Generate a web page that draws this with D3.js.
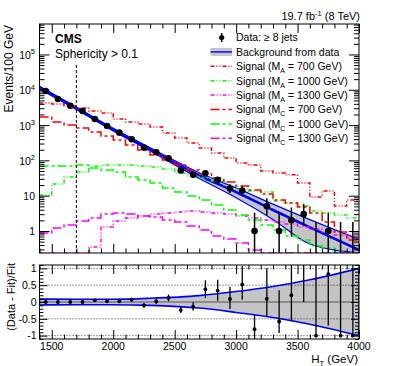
<!DOCTYPE html>
<html>
<head>
<meta charset="utf-8">
<script src="https://cdn.jsdelivr.net/npm/d3@7"></script>
<style>
body { margin: 0; background: #fff; }
text { font-family: "Liberation Sans", Arial, Helvetica, sans-serif; fill: #000; }
</style>
</head>
<body>
<script>
/* Data (events per 100 GeV bin) */
var binCenters = d3.range(1450, 4000, 100);

var dataEvents = [9250, 5480, 3540, 2500, 1480, 940, 610, 397, 230, 170, 114, 52, 39, 43, 28, 16, 14,
	1, 5, 1, 2, 3, 0, 1, 0, 0];
var dataErrDn = [96, 74, 60, 50, 38, 31, 25, 20, 15, 13, 11, 7, 6, 7, 5, 4, 4,
	0.83, 2.2, 0.83, 1.3, 1.6, 0, 0.83, 0, 0];
var dataErrUp = [96, 74, 60, 50, 38, 31, 25, 20, 15, 13, 11, 8, 7, 7, 6, 5, 5,
	2.3, 3.4, 2.3, 2.6, 2.9, 1.8, 2.3, 1.8, 1.8];

var ratioVals = [0, 0, 0, 0, 0.05, 0.02, 0.02, 0.07, -0.1, 0.02, 0.12, -0.24, -0.14, 0.38, 0.34, 0.09, 0.52,
	-0.81, 0.1, -0.58, 0.2, 1.4, -1, 0.83, -1, -1];
var ratioErrDn = [0.01, 0.015, 0.02, 0.02, 0.03, 0.03, 0.04, 0.06, 0.07, 0.08, 0.1, 0.09, 0.12, 0.25, 0.3, 0.3, 0.45,
	0.3, 0.55, 0.34, 0.78, 1.4, 0, 1.53, 0, 0];
var ratioErrUp = [0.01, 0.015, 0.02, 0.02, 0.03, 0.03, 0.04, 0.06, 0.07, 0.08, 0.1, 0.1, 0.13, 0.27, 0.32, 0.36, 0.55,
	0.43, 0.9, 0.93, 1.0, 2.0, 2.5, 2.0, 2.5, 2.5];

// background fit and its relative uncertainty band
var fitHT = [1400, 1700, 2000, 2300, 2700, 3000, 3300, 3600, 4000];
var fitEvents = [11620, 2990, 746, 206, 37.4, 12.7, 3.94, 1.26, 0.29];
var bandUp = [0.09, 0.08, 0.08, 0.11, 0.19, 0.31, 0.46, 0.66, 1.0];
var bandDn = [-0.09, -0.08, -0.08, -0.10, -0.18, -0.31, -0.46, -0.66, -1.0];

// signal histograms
var sigA700 = [4230, 3960, 3480, 3050, 2510, 2200, 1490, 1220, 1070, 880, 600, 430, 310, 225, 162, 117, 84,
	74, 50, 44, 39, 23, 9.2, 13.6, 5.1, 7.6];
var sigA1000 = [10.5, 21.4, 33.9, 46.9, 69.4, 74, 74, 74, 69.4, 65, 57.1, 44, 36.2, 31.7, 26.1, 18.8, 15.5,
	13.6, 12.7, 7.08, 6.21, 5.11, 3.69, 3.24, 2.84, 2.33];
var sigA1300 = [0.1, 0.1, 0.1, 0.1, 0.352, 1.30, 1.92, 2.33, 2.66, 3.03, 3.24, 3.45, 3.69, 3.45, 3.24, 3.03, 2.66,
	2.33, 2.05, 1.80, 1.58, 1.30, 1.14, 0.94, 0.77, 0.63];
var sigC700 = [1695, 1220, 1005, 828, 638, 491, 378, 273, 197, 142, 103, 74, 53.5, 41.2, 31.7, 24.4, 18.8,
	14.5, 11.2, 7.55, 6.21, 4.79, 3.24, 1.80, 0.94, 0.56];
var sigC1000 = [69.4, 69.4, 69.4, 74, 60.9, 53.5, 46.9, 33.9, 27.9, 22.9, 16.5, 12.7, 9.81, 7.55, 5.45, 3.94, 2.84,
	2.05, 1.48, 1.07, 0.72, 0.56, 0.38, 0.33, 0.25, 0.2];
var sigC1300 = [0.88, 1.22, 1.48, 1.92, 2.33, 3.03, 3.24, 3.03, 2.66, 2.49, 2.05, 1.80, 1.39, 1.07, 0.72, 0.59, 0.46,
	0.29, 0.1, 0.1, 0.1, 0.1, 0.1, 0.1, 0.1, 0.1];

var signals = [
	{values: sigA700, color: "#ff0000", dash: "4,2,1,2,1,2", label: ["A", "700"]},
	{values: sigA1000, color: "#00ff00", dash: "4,2,1,2,1,2", label: ["A", "1000"]},
	{values: sigA1300, color: "#ff00ff", dash: "4,2,1,2,1,2", label: ["A", "1300"]},
	{values: sigC700, color: "#ff0000", dash: "9,3,3,3", label: ["C", "700"]},
	{values: sigC1000, color: "#00ff00", dash: "9,3,3,3", label: ["C", "1000"]},
	{values: sigC1300, color: "#ff00ff", dash: "9,3,3,3", label: ["C", "1300"]}
];

/* Display setup */
var W = 399, H = 366,
	padTop = {y0: 24, y1: 253},
	padBot = {y0: 265, y1: 339},
	x0 = 39.5, x1 = 359,
	svg = d3.select("body").append("svg").attr("width", W).attr("height", H);

var x = d3.scaleLinear().domain([1400, 4000]).range([x0, x1]),
	yTop = d3.scaleLog().domain([0.238, 7.3e5]).range([padTop.y1, padTop.y0]),
	yBot = d3.scaleLinear().domain([-1.1, 1.1]).range([padBot.y1, padBot.y0]),
	yMin = yTop.domain()[0];

function clampLog(v) { return Math.max(v, yMin * 0.999); }

var defs = svg.append("defs");
defs.append("clipPath").attr("id", "clipTop").append("rect")
	.attr("x", x0).attr("y", padTop.y0).attr("width", x1 - x0).attr("height", padTop.y1 - padTop.y0);
defs.append("clipPath").attr("id", "clipBot").append("rect")
	.attr("x", x0).attr("y", padBot.y0).attr("width", x1 - x0).attr("height", padBot.y1 - padBot.y0);

var gTop = svg.append("g").attr("clip-path", "url(#clipTop)"),
	gBot = svg.append("g").attr("clip-path", "url(#clipBot)");

/* Upper panel: band + fit */
var bandIdx = d3.range(fitHT.length),
	smooth = d3.curveMonotoneX;
gTop.append("path")
	.attr("d", d3.area()
		.x(function(i) { return x(fitHT[i]); })
		.y0(function(i) { return yTop(clampLog(fitEvents[i] * (1 + bandDn[i]))); })
		.y1(function(i) { return yTop(fitEvents[i] * (1 + bandUp[i])); })
		.curve(smooth)(bandIdx))
	.style("fill", "#c4c4c4");

[bandUp, bandDn].forEach(function(b) {
	gTop.append("path")
		.attr("d", d3.line()
			.x(function(i) { return x(fitHT[i]); })
			.y(function(i) { return yTop(clampLog(fitEvents[i] * (1 + b[i]))); })
			.curve(smooth)(bandIdx))
		.style("fill", "none").style("stroke", "#0000ff").style("stroke-width", 1.2);
});
gTop.append("path")
	.attr("d", d3.line()
		.x(function(i) { return x(fitHT[i]); })
		.y(function(i) { return yTop(fitEvents[i]); })
		.curve(smooth)(bandIdx))
	.style("fill", "none").style("stroke", "#0000ff").style("stroke-width", 2.6);

/* Upper panel: signal histograms */
function stepPoints(values) {
	var pts = values.map(function(v, i) { return [binCenters[i] - 50, clampLog(v)]; });
	pts.push([4000, clampLog(values[values.length - 1])]);
	return pts;
}
var stepLine = d3.line()
	.x(function(d) { return x(d[0]); })
	.y(function(d) { return yTop(d[1]); })
	.curve(d3.curveStepAfter);

signals.forEach(function(s) {
	gTop.append("path")
		.attr("d", stepLine(stepPoints(s.values)))
		.style("fill", "none")
		.style("stroke", s.color)
		.style("stroke-width", 1.5)
		.style("stroke-dasharray", s.dash);
});

// cut line
gTop.append("line")
	.attr("x1", x(1700)).attr("x2", x(1700))
	.attr("y1", 65).attr("y2", padTop.y1)
	.style("stroke", "#000").style("stroke-width", 1).style("stroke-dasharray", "3,2");

/* Upper panel: data */
gTop.selectAll(".errTop").data(binCenters).enter().append("line")
	.attr("x1", function(d) { return x(d); })
	.attr("x2", function(d) { return x(d); })
	.attr("y1", function(d, i) { return yTop(clampLog(dataEvents[i] - dataErrDn[i])); })
	.attr("y2", function(d, i) { return yTop(dataEvents[i] + dataErrUp[i]); })
	.style("stroke", "#000").style("stroke-width", 1.5);
gTop.selectAll(".dotTop").data(binCenters.filter(function(d, i) { return dataEvents[i] > 0; })).enter()
	.append("circle")
	.attr("cx", function(d) { return x(d); })
	.attr("cy", function(d) { return yTop(dataEvents[binCenters.indexOf(d)]); })
	.attr("r", 3.3)
	.style("fill", "#000");

/* Lower panel */
gBot.append("path")
	.attr("d", d3.area()
		.x(function(i) { return x(fitHT[i]); })
		.y0(function(i) { return yBot(bandDn[i]); })
		.y1(function(i) { return yBot(bandUp[i]); })
		.curve(smooth)(bandIdx))
	.style("fill", "#c4c4c4")
	.style("stroke", "#0000ff").style("stroke-width", 1.6);

[-1, -0.5, 0.5, 1].forEach(function(v) {
	gBot.append("line")
		.attr("x1", x0).attr("x2", x1).attr("y1", yBot(v)).attr("y2", yBot(v))
		.style("stroke", "#000").style("stroke-width", 0.8).style("stroke-dasharray", "1,2");
});
gBot.append("line")
	.attr("x1", x0).attr("x2", x1).attr("y1", yBot(0)).attr("y2", yBot(0))
	.style("stroke", "#555").style("stroke-width", 1);

gBot.selectAll(".errBot").data(binCenters).enter().append("line")
	.attr("x1", function(d) { return x(d); })
	.attr("x2", function(d) { return x(d); })
	.attr("y1", function(d, i) { return yBot(ratioVals[i] - ratioErrDn[i]); })
	.attr("y2", function(d, i) { return yBot(ratioVals[i] + ratioErrUp[i]); })
	.style("stroke", "#000").style("stroke-width", 1.3);
gBot.selectAll(".dotBot").data(binCenters).enter().append("circle")
	.attr("cx", function(d) { return x(d); })
	.attr("cy", function(d, i) { return yBot(ratioVals[i]); })
	.attr("r", 1.9)
	.style("fill", "#000");

/* Frames and axes */
[padTop, padBot].forEach(function(p) {
	svg.append("rect")
		.attr("x", x0).attr("y", p.y0).attr("width", x1 - x0).attr("height", p.y1 - p.y0)
		.style("fill", "none").style("stroke", "#000").style("stroke-width", 1);
});

var xMajor = [1500, 2000, 2500, 3000, 3500, 4000],
	xMinor = d3.range(1400, 4001, 100).filter(function(v) { return xMajor.indexOf(v) < 0; });

function tickAxis(axisFn, scale, values, size, transformAxis) {
	var g = svg.append("g").attr("transform", transformAxis)
		.call(axisFn(scale).tickValues(values).tickSize(size).tickFormat(""));
	g.select(".domain").remove();
	g.selectAll("line").style("stroke", "#000").style("stroke-width", 1);
	return g;
}

// x ticks, both panels, bottom and top
[padTop, padBot].forEach(function(p) {
	tickAxis(d3.axisBottom, x, xMajor, -9, "translate(0," + p.y1 + ")");
	tickAxis(d3.axisBottom, x, xMinor, -4.5, "translate(0," + p.y1 + ")");
	tickAxis(d3.axisTop, x, xMajor, -9, "translate(0," + p.y0 + ")");
	tickAxis(d3.axisTop, x, xMinor, -4.5, "translate(0," + p.y0 + ")");
});

// x labels on lower panel
svg.append("g").selectAll("text").data(xMajor).enter().append("text")
	.attr("x", function(d) { return x(d); })
	.attr("y", 350)
	.attr("text-anchor", "middle")
	.style("font-size", "10.5px")
	.text(function(d) { return d; });

// log y ticks
var yDecades = [1, 10, 100, 1000, 1e4, 1e5],
	yLogMinor = [];
[0.1, 1, 10, 100, 1000, 1e4, 1e5].forEach(function(dec) {
	for (var k = 2; k <= 9; k++) {
		var v = k * dec;
		if (v > yTop.domain()[0] && v < yTop.domain()[1]) yLogMinor.push(v);
	}
});
tickAxis(d3.axisLeft, yTop, yDecades, -10, "translate(" + x0 + ",0)");
tickAxis(d3.axisLeft, yTop, yLogMinor, -5, "translate(" + x0 + ",0)");
tickAxis(d3.axisRight, yTop, yDecades, -10, "translate(" + x1 + ",0)");
tickAxis(d3.axisRight, yTop, yLogMinor, -5, "translate(" + x1 + ",0)");

var yLab = svg.append("g").selectAll("text").data(yDecades).enter().append("text")
	.attr("x", 35)
	.attr("y", function(d) { return yTop(d) + 4.5; })
	.attr("text-anchor", "end")
	.style("font-size", "10.5px");
yLab.each(function(d) {
	var e = Math.round(Math.log10(d)), t = d3.select(this);
	if (e < 2) { t.text(d); return; }
	t.append("tspan").text("10");
	t.append("tspan").attr("dy", -4.5).style("font-size", "7.5px").text(e);
});

// ratio y ticks
var rMajor = [-1, -0.5, 0, 0.5, 1],
	rMinor = d3.range(-11, 12).map(function(k) { return k / 10; })
		.filter(function(v) { return Math.abs(v * 2 - Math.round(v * 2)) > 1e-6; });
tickAxis(d3.axisLeft, yBot, rMajor, -8, "translate(" + x0 + ",0)");
tickAxis(d3.axisLeft, yBot, rMinor, -4, "translate(" + x0 + ",0)");
tickAxis(d3.axisRight, yBot, rMajor, -8, "translate(" + x1 + ",0)");
tickAxis(d3.axisRight, yBot, rMinor, -4, "translate(" + x1 + ",0)");

svg.append("g").selectAll("text").data(rMajor).enter().append("text")
	.attr("x", 36.5)
	.attr("y", function(d) { return yBot(d) + 3.8; })
	.attr("text-anchor", "end")
	.style("font-size", "10.5px")
	.text(function(d) { return d; });

/* Titles */
svg.append("text")
	.attr("transform", "translate(13,25) rotate(-90)")
	.attr("text-anchor", "end")
	.style("font-size", "12px")
	.text("Events/100 GeV");
svg.append("text")
	.attr("transform", "translate(14.5,263) rotate(-90)")
	.attr("text-anchor", "end")
	.style("font-size", "11px")
	.text("(Data - Fit)/Fit");

var xt = svg.append("text").attr("x", 358).attr("y", 363).attr("text-anchor", "end").style("font-size", "11.5px");
xt.append("tspan").text("H");
xt.append("tspan").attr("dy", 2.5).style("font-size", "7.5px").text("T");
xt.append("tspan").attr("dy", -2.5).text(" (GeV)");

var lumi = svg.append("text").attr("x", 360).attr("y", 19.5).attr("text-anchor", "end").style("font-size", "11px");
lumi.append("tspan").text("19.7 fb");
lumi.append("tspan").attr("dy", -4).style("font-size", "7.5px").text("-1");
lumi.append("tspan").attr("dy", 4).text(" (8 TeV)");

svg.append("text").attr("x", 55).attr("y", 43).style("font-size", "12px").style("font-weight", "bold").text("CMS");
svg.append("text").attr("x", 55).attr("y", 57.5).style("font-size", "12px").text("Sphericity > 0.1");

/* Legend */
var legend = svg.append("g"),
	lx0 = 210.5, lx1 = 232, ltx = 236, ly0 = 37.5, lstep = 14.4;

legend.append("line").attr("x1", 221.7).attr("x2", 221.7).attr("y1", ly0 - 4.5).attr("y2", ly0 + 4.5)
	.style("stroke", "#000").style("stroke-width", 1.5);
legend.append("circle").attr("cx", 221.7).attr("cy", ly0).attr("r", 2.6).style("fill", "#000");
legend.append("text").attr("x", ltx).attr("y", ly0 + 3.8).style("font-size", "10.5px").text("Data: \u2265 8 jets");

var ly = ly0 + lstep;
legend.append("rect").attr("x", lx0).attr("y", ly - 4).attr("width", lx1 - lx0).attr("height", 8)
	.style("fill", "#c4c4c4");
legend.append("line").attr("x1", lx0).attr("x2", lx1).attr("y1", ly).attr("y2", ly)
	.style("stroke", "#0000ff").style("stroke-width", 1.4);
legend.append("text").attr("x", ltx).attr("y", ly + 3.8).style("font-size", "10.5px").text("Background from data");

signals.forEach(function(s, i) {
	var yy = ly0 + lstep * (i + 2);
	legend.append("line").attr("x1", lx0).attr("x2", lx1).attr("y1", yy).attr("y2", yy)
		.style("stroke", s.color).style("stroke-width", 1.5).style("stroke-dasharray", s.dash);
	var t = legend.append("text").attr("x", ltx).attr("y", yy + 3.8).style("font-size", "10.5px");
	t.append("tspan").text("Signal (M");
	t.append("tspan").attr("dy", 3).style("font-size", "7px").text(s.label[0]);
	t.append("tspan").attr("dy", -3).text(" = " + s.label[1] + " GeV)");
});
</script>
</body>
</html>
